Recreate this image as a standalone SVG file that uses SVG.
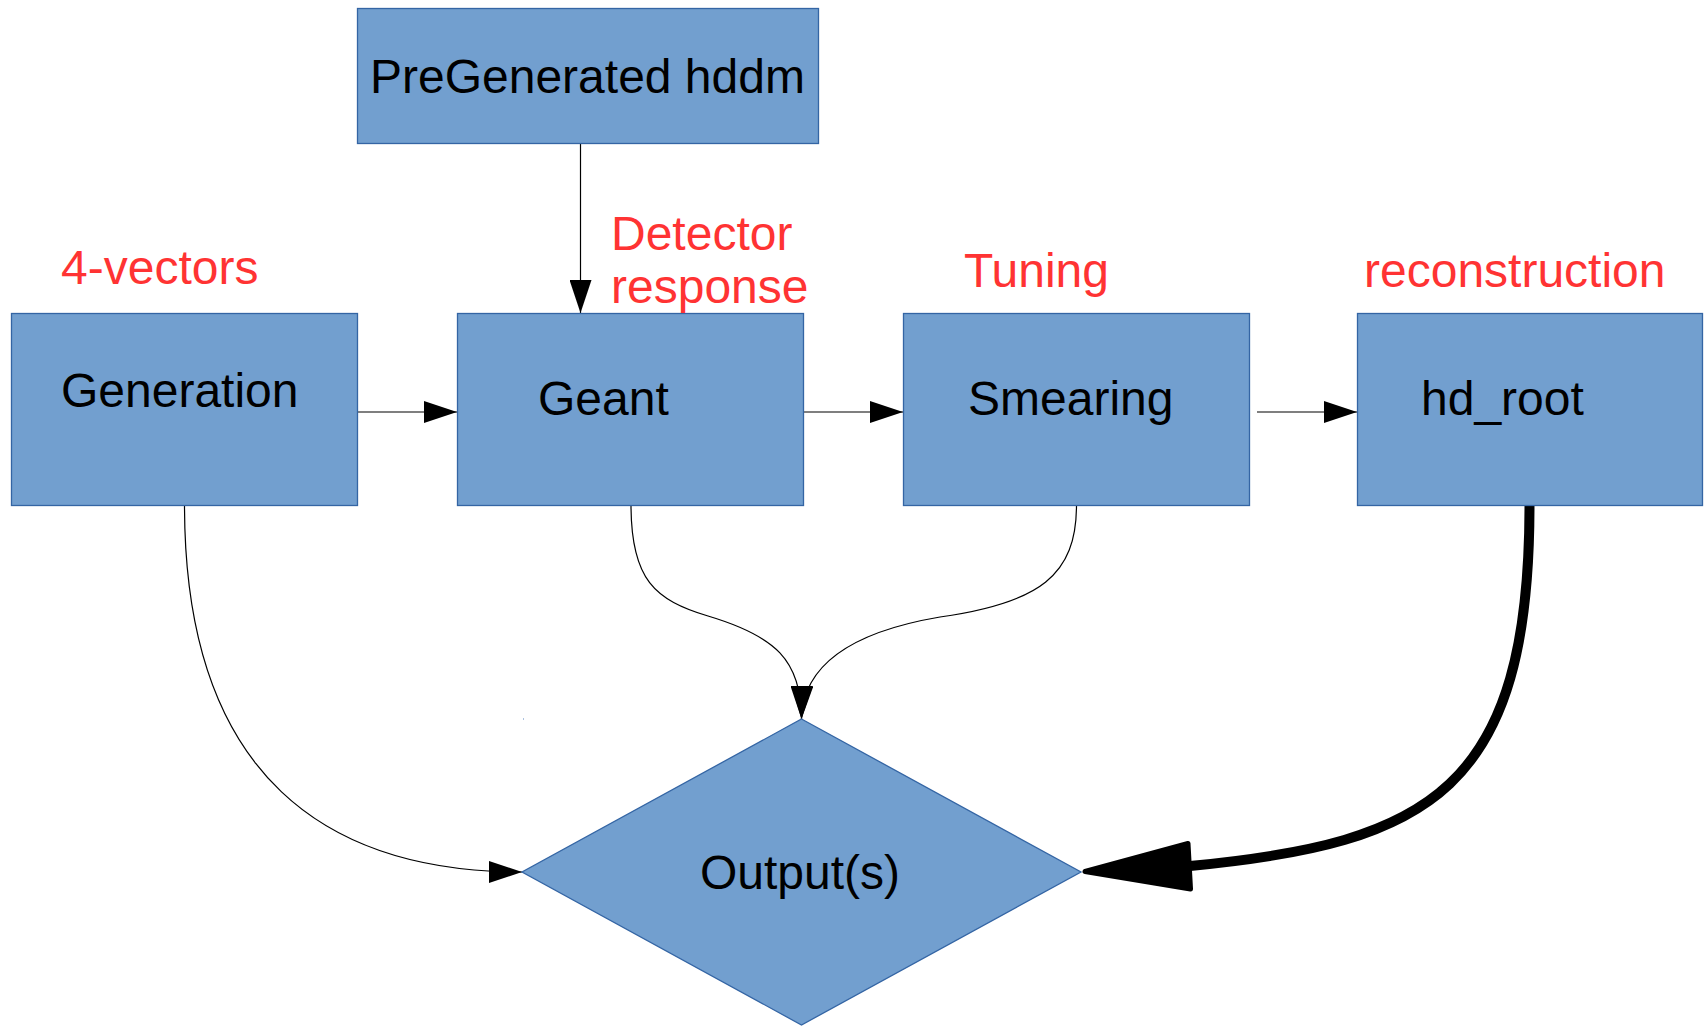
<svg xmlns="http://www.w3.org/2000/svg" width="1704" height="1026" viewBox="0 0 1704 1026">
<style>
.box{fill:#729fcf;stroke:#3465a4;stroke-width:1.3}
.lbl{font-family:"Liberation Sans",Arial,sans-serif;font-size:48px;fill:#000}
.red{font-family:"Liberation Sans",Arial,sans-serif;font-size:48px;fill:#ff3333}
.con{fill:none;stroke:#000;stroke-width:1.2}
</style>
<defs>
<marker id="arr" markerUnits="userSpaceOnUse" viewBox="0 0 33 22" markerWidth="33" markerHeight="22" refX="33" refY="11" orient="auto">
<path d="M0,0 L33,11 L0,22 z" fill="#000"/>
</marker>
</defs>
<rect width="1704" height="1026" fill="#fff"/>

<g id="connectors">
<path class="con" d="M580.5,143.5 L580.5,313" marker-end="url(#arr)"/>
<path class="con" d="M357,412 L457,412" marker-end="url(#arr)"/>
<path class="con" d="M803,412 L903,412" marker-end="url(#arr)"/>
<path class="con" d="M1257,412 L1357,412" marker-end="url(#arr)"/>
<path class="con" d="M184.5,505 C184.5,780 330,872 522,872" marker-end="url(#arr)"/>
<path class="con" d="M631,505 C631,580 655,600 708,616 C775,636 801.5,660 801.5,719" marker-end="url(#arr)"/>
<path class="con" d="M1076.5,505 C1076.5,575 1040,603 940,617 C860,630.6 803,660 801.5,719" marker-end="url(#arr)"/>
<path d="M1529.5,505 C1529.5,790 1430,843 1190,866" fill="none" stroke="#000" stroke-width="10"/>
<polygon points="1085,871.5 1188,843.5 1190.5,889" fill="#000" stroke="#000" stroke-width="5" stroke-linejoin="round"/>
</g>

<g id="node-pregenerated">
<rect class="box" x="357.5" y="8.5" width="461" height="135"/>
<text class="lbl" x="370" y="93">PreGenerated hddm</text>
</g>
<g id="node-generation">
<rect class="box" x="11.5" y="313.5" width="346" height="192"/>
<text class="lbl" x="61" y="407">Generation</text>
</g>
<g id="node-geant">
<rect class="box" x="457.5" y="313.5" width="346" height="192"/>
<text class="lbl" x="538" y="415">Geant</text>
</g>
<g id="node-smearing">
<rect class="box" x="903.5" y="313.5" width="346" height="192"/>
<text class="lbl" x="968" y="415">Smearing</text>
</g>
<g id="node-hdroot">
<rect class="box" x="1357.5" y="313.5" width="345" height="192"/>
<text class="lbl" x="1421" y="415">hd_root</text>
</g>
<g id="node-output">
<polygon class="box" points="801.5,719 1081,872 801.5,1025 522,872" stroke-width="1"/>
<text class="lbl" x="700" y="889">Output(s)</text>
</g>
<rect x="523" y="718.5" width="1" height="1" fill="#5b86c0"/>

<g id="labels">
<text class="red" x="61" y="284">4-vectors</text>
<text class="red" x="611" y="250">Detector</text>
<text class="red" x="611" y="303">response</text>
<text class="red" x="964" y="287">Tuning</text>
<text class="red" x="1364" y="287">reconstruction</text>
</g>
</svg>
